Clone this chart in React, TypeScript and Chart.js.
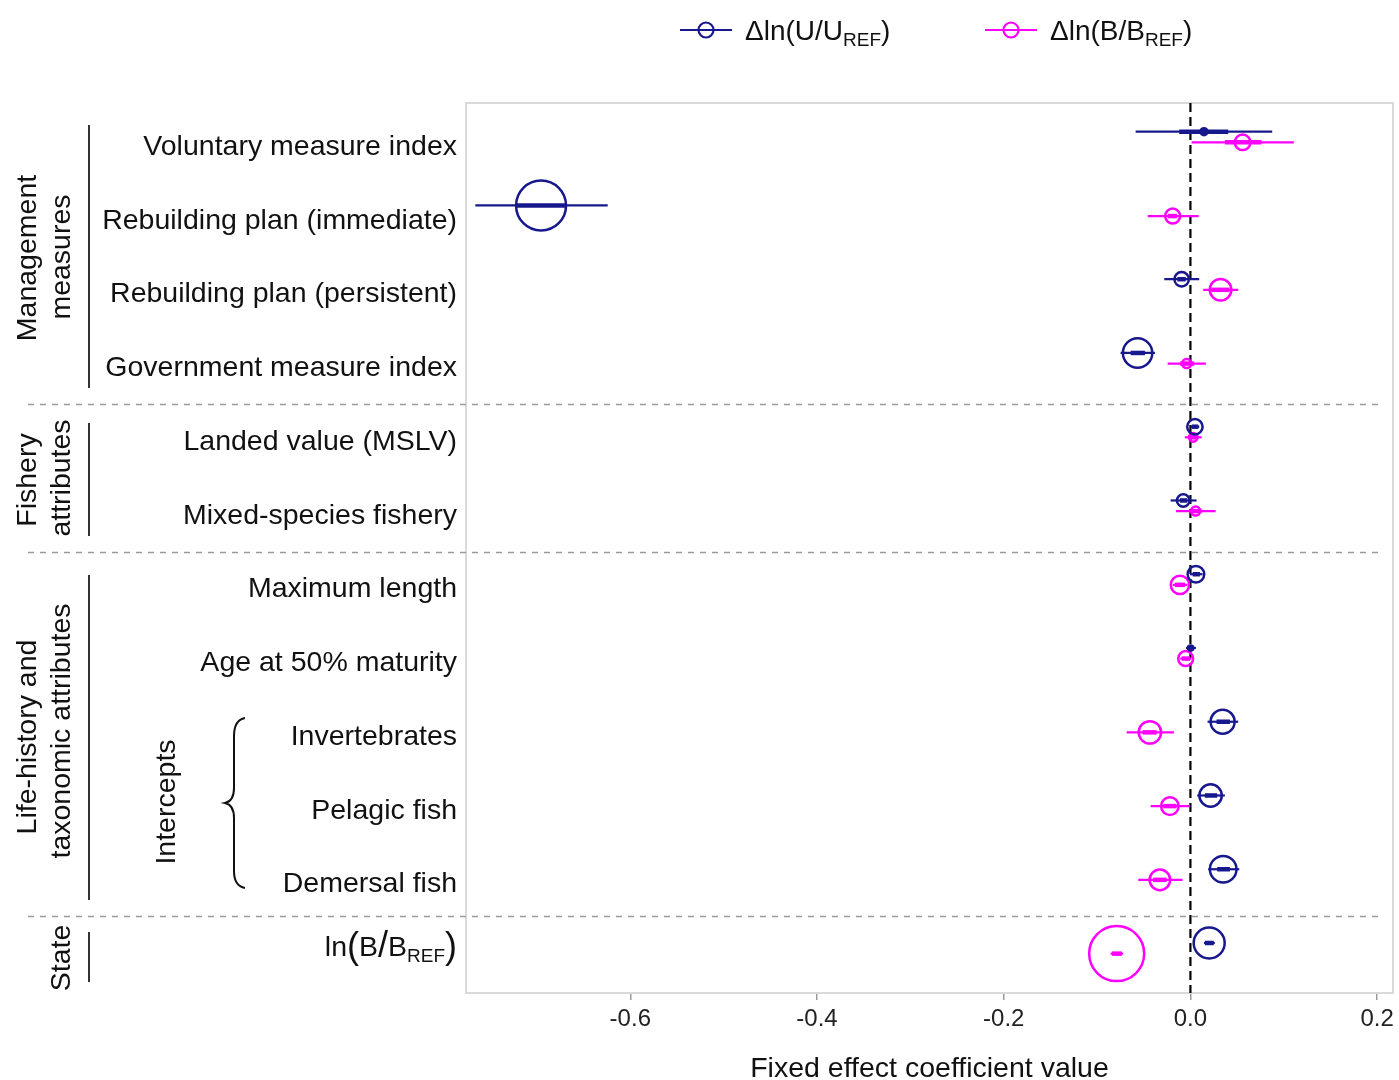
import React, { useEffect, useRef } from 'react';
import { Chart, registerables } from 'chart.js';

Chart.register(...registerables);

const FAMILY = '"Liberation Sans", Arial, Helvetica, sans-serif';
const BLUE = '#18188e';
const MAGENTA = '#ff00ff';

// Row categories (top to bottom)
const categories = [
  'Voluntary measure index',
  'Rebuilding plan (immediate)',
  'Rebuilding plan (persistent)',
  'Government measure index',
  'Landed value (MSLV)',
  'Mixed-species fishery',
  'Maximum length',
  'Age at 50% maturity',
  'Invertebrates',
  'Pelagic fish',
  'Demersal fish',
  'ln(B/BREF)',
];

// Δln(U/U_REF) series
const uEst = [0.0145, -0.6956, -0.0094, -0.0566, 0.0048, -0.0077, 0.0059, 0.0002, 0.0345, 0.0216, 0.0351, 0.0201];
const uLo95 = [-0.0587, -0.766, -0.028, -0.0748, 0.0003, -0.0212, -0.0005, -0.0048, 0.0184, 0.0073, 0.0191, 0.0145];
const uHi95 = [0.0876, -0.6242, 0.0094, -0.038, 0.0095, 0.0066, 0.013, 0.0059, 0.0512, 0.0369, 0.0523, 0.0262];
const uLo50 = [-0.012, -0.7223, -0.014, -0.064, 0.0015, -0.0112, 0.0024, -0.0035, 0.028, 0.0155, 0.0287, 0.0155];
const uHi50 = [0.0405, -0.669, -0.005, -0.0487, 0.0085, -0.0034, 0.0102, 0.004, 0.0423, 0.0287, 0.0423, 0.025];
const uWeight = [3.5, 25, 7.2, 14.7, 7.7, 6.3, 8.3, 2.5, 12, 11.2, 13.3, 15.5];

// Δln(B/B_REF) series
const bEst = [0.0559, -0.019, 0.0323, -0.004, 0.003, 0.0056, -0.0112, -0.0051, -0.0434, -0.022, -0.0327, -0.079];
const bLo95 = [0.0013, -0.0458, 0.0137, -0.0244, -0.006, -0.0155, -0.019, -0.011, -0.0683, -0.0426, -0.0559, -0.0855];
const bHi95 = [0.1108, 0.0088, 0.0512, 0.0166, 0.012, 0.027, -0.0034, 0.001, -0.0177, -0.0005, -0.0084, -0.072];
const bLo50 = [0.037, -0.024, 0.0227, -0.011, -0.0013, -0.0005, -0.0166, -0.0094, -0.0512, -0.029, -0.0398, -0.084];
const bHi50 = [0.076, -0.0145, 0.0416, 0.004, 0.0073, 0.012, -0.0059, -0.0005, -0.0362, -0.0148, -0.0255, -0.0735];
const bWeight = [7.8, 7.5, 10.8, 4.5, 4.3, 4.5, 9.2, 7.5, 11.2, 8.8, 10.3, 27.5];

const xTickValues = [-0.6, -0.4, -0.2, 0.0, 0.2];
const X_MIN = -0.776;
const X_MAX = 0.217;
const Y_MIN = -0.461;
const Y_MAX = 11.606;
const SERIES_OFFSET = 0.072;
const separatorsAt = [3.625, 5.625, 10.56];

type Part = { t: string; size: number; dy?: number };

function drawParts(ctx: CanvasRenderingContext2D, parts: Part[], x: number, baseline: number, align: 'left' | 'right') {
  const widths = parts.map((p) => {
    ctx.font = `${p.size}px ${FAMILY}`;
    return ctx.measureText(p.t).width;
  });
  const total = widths.reduce((a, b) => a + b, 0);
  let cx = align === 'right' ? x - total : x;
  ctx.textAlign = 'left';
  ctx.textBaseline = 'alphabetic';
  parts.forEach((p, i) => {
    ctx.font = `${p.size}px ${FAMILY}`;
    ctx.fillText(p.t, cx, baseline + (p.dy || 0));
    cx += widths[i];
  });
}

function rotText(ctx: CanvasRenderingContext2D, text: string, x: number, y: number, size: number) {
  ctx.save();
  ctx.translate(x, y);
  ctx.rotate(-Math.PI / 2);
  ctx.font = `${size}px ${FAMILY}`;
  ctx.textAlign = 'center';
  ctx.textBaseline = 'middle';
  ctx.fillText(text, 0, 0);
  ctx.restore();
}

const decor = {
  id: 'decor',
  beforeDatasetsDraw(chart: any) {
    const { ctx, chartArea, scales } = chart;
    const xs = scales.x;
    const ys = scales.y;
    ctx.save();
    // plot border
    ctx.strokeStyle = '#d9d9d9';
    ctx.lineWidth = 2;
    ctx.strokeRect(chartArea.left, chartArea.top, chartArea.right - chartArea.left, chartArea.bottom - chartArea.top);
    // separators
    ctx.strokeStyle = '#9a9a9a';
    ctx.lineWidth = 1.5;
    ctx.setLineDash([6, 6]);
    separatorsAt.forEach((v) => {
      const py = Math.round(ys.getPixelForValue(v)) + 0.5;
      ctx.beginPath();
      ctx.moveTo(28, py);
      ctx.lineTo(chartArea.right - 12, py);
      ctx.stroke();
    });
    // zero line
    ctx.strokeStyle = '#000';
    ctx.lineWidth = 2.2;
    ctx.setLineDash([9, 5]);
    const zx = xs.getPixelForValue(0);
    ctx.beginPath();
    ctx.moveTo(zx, chartArea.top);
    ctx.lineTo(zx, chartArea.bottom);
    ctx.stroke();
    ctx.setLineDash([]);
    // error bars
    const series = [
      { color: BLUE, lo95: uLo95, hi95: uHi95, lo50: uLo50, hi50: uHi50, off: -SERIES_OFFSET },
      { color: MAGENTA, lo95: bLo95, hi95: bHi95, lo50: bLo50, hi50: bHi50, off: SERIES_OFFSET },
    ];
    series.forEach((s) => {
      ctx.strokeStyle = s.color;
      categories.forEach((_, i) => {
        const py = ys.getPixelForValue(i + s.off);
        ctx.lineWidth = 2.2;
        ctx.beginPath();
        ctx.moveTo(xs.getPixelForValue(s.lo95[i]), py);
        ctx.lineTo(xs.getPixelForValue(s.hi95[i]), py);
        ctx.stroke();
        ctx.lineWidth = 4.5;
        ctx.beginPath();
        ctx.moveTo(xs.getPixelForValue(s.lo50[i]), py);
        ctx.lineTo(xs.getPixelForValue(s.hi50[i]), py);
        ctx.stroke();
      });
    });
    ctx.restore();
  },
  afterDraw(chart: any) {
    const { ctx, chartArea, scales } = chart;
    const xs = scales.x;
    const ys = scales.y;
    ctx.save();
    ctx.fillStyle = '#222';
    // x tick labels (from the library's x scale ticks)
    ctx.font = `24px ${FAMILY}`;
    ctx.textAlign = 'center';
    ctx.textBaseline = 'middle';
    xs.ticks.forEach((t: any) => {
      ctx.fillText(Number(t.value).toFixed(1), xs.getPixelForValue(t.value), chartArea.bottom + 26);
    });
    ctx.fillStyle = '#111';
    const labelRight = chartArea.left - 9;
    // category labels
    categories.forEach((c, i) => {
      if (i === categories.length - 1) {
        const base = ys.getPixelForValue(i) + 8;
        drawParts(ctx, [
          { t: 'ln', size: 28.5 },
          { t: '(', size: 36, dy: 2 },
          { t: 'B', size: 28.5 },
          { t: '/', size: 36, dy: 1 },
          { t: 'B', size: 28.5 },
          { t: 'REF', size: 19, dy: 6 },
          { t: ')', size: 36, dy: 2 },
        ], labelRight, base, 'right');
      } else {
        const base = ys.getPixelForValue(i + 0.105) + 10;
        drawParts(ctx, [{ t: c, size: 28.5 }], labelRight, base, 'right');
      }
    });
    // group labels
    rotText(ctx, 'Management', 28, 258, 28.5);
    rotText(ctx, 'measures', 62, 257, 28.5);
    rotText(ctx, 'Fishery', 28, 480, 28.5);
    rotText(ctx, 'attributes', 62, 478, 28.5);
    rotText(ctx, 'Life-history and', 28, 737, 28.5);
    rotText(ctx, 'taxonomic attributes', 62, 731, 28.5);
    rotText(ctx, 'State', 62, 958, 28.5);
    rotText(ctx, 'Intercepts', 167, 802, 28.5);
    // group bars
    ctx.strokeStyle = '#333';
    ctx.lineWidth = 2;
    [[125, 388], [423, 536], [575, 900], [932, 982]].forEach(([a, b]) => {
      ctx.beginPath();
      ctx.moveTo(89, a);
      ctx.lineTo(89, b);
      ctx.stroke();
    });
    // brace
    ctx.strokeStyle = '#111';
    ctx.lineWidth = 2;
    ctx.beginPath();
    ctx.moveTo(245, 718);
    ctx.quadraticCurveTo(234, 720, 234, 736);
    ctx.lineTo(234, 788);
    ctx.quadraticCurveTo(234, 801, 225, 803);
    ctx.quadraticCurveTo(234, 805, 234, 818);
    ctx.lineTo(234, 871);
    ctx.quadraticCurveTo(234, 886, 245, 888);
    ctx.stroke();
    // legend
    const legendItems = [
      { color: BLUE, x: 680, main: 'Δln(U/U' },
      { color: MAGENTA, x: 985, main: 'Δln(B/B' },
    ];
    legendItems.forEach((it) => {
      ctx.strokeStyle = it.color;
      ctx.lineWidth = 2.2;
      ctx.beginPath();
      ctx.moveTo(it.x, 30);
      ctx.lineTo(it.x + 52, 30);
      ctx.stroke();
      ctx.beginPath();
      ctx.arc(it.x + 26, 30, 7.5, 0, Math.PI * 2);
      ctx.stroke();
      ctx.fillStyle = '#111';
      drawParts(ctx, [
        { t: it.main, size: 28 },
        { t: 'REF', size: 19, dy: 6 },
        { t: ')', size: 28 },
      ], it.x + 65, 40, 'left');
    });
    ctx.restore();
  },
};

export default function App() {
  const ref = useRef<HTMLCanvasElement>(null);
  useEffect(() => {
    document.body.style.margin = '0';
    const canvas = ref.current!;
    const mk = (est: number[], w: number[], color: string, off: number, label: string) => ({
      label,
      data: est.map((v, i) => ({ x: v, y: i + off })),
      pointRadius: w,
      pointHoverRadius: w,
      pointBorderWidth: 2.5,
      pointBorderColor: color,
      pointBackgroundColor: w.map((r) => (r < 4 ? color : 'rgba(0,0,0,0)')),
      borderColor: color,
      clip: false as any,
    });
    const chart = new Chart(canvas, {
      type: 'scatter',
      data: {
        datasets: [
          mk(uEst, uWeight, BLUE, -SERIES_OFFSET, 'Δln(U/U_REF)'),
          mk(bEst, bWeight, MAGENTA, SERIES_OFFSET, 'Δln(B/B_REF)'),
        ],
      },
      options: {
        responsive: false,
        animation: false,
        events: [],
        layout: { autoPadding: false, padding: { left: 466, right: 6, top: 103, bottom: 0 } },
        plugins: { legend: { display: false }, tooltip: { enabled: false } },
        scales: {
          x: {
            type: 'linear',
            min: X_MIN,
            max: X_MAX,
            afterFit: (s: any) => {
              s.height = 87;
              s.paddingLeft = 0;
              s.paddingRight = 0;
            },
            afterBuildTicks: (s: any) => {
              s.ticks = xTickValues.map((v) => ({ value: v }));
            },
            ticks: { display: false },
            grid: { drawOnChartArea: false, drawTicks: true, tickLength: 7, color: '#999', lineWidth: 1.5 },
            border: { display: false },
            title: {
              display: true,
              text: 'Fixed effect coefficient value',
              font: { size: 28.5, family: FAMILY, lineHeight: 0.75 },
              color: '#111',
              padding: 0,
            },
          },
          y: { type: 'linear', display: false, min: Y_MIN, max: Y_MAX, reverse: true },
        },
      },
      plugins: [decor],
    });
    return () => chart.destroy();
  }, []);
  return <canvas ref={ref} width={1399} height={1080} style={{ display: 'block' }} />;
}
